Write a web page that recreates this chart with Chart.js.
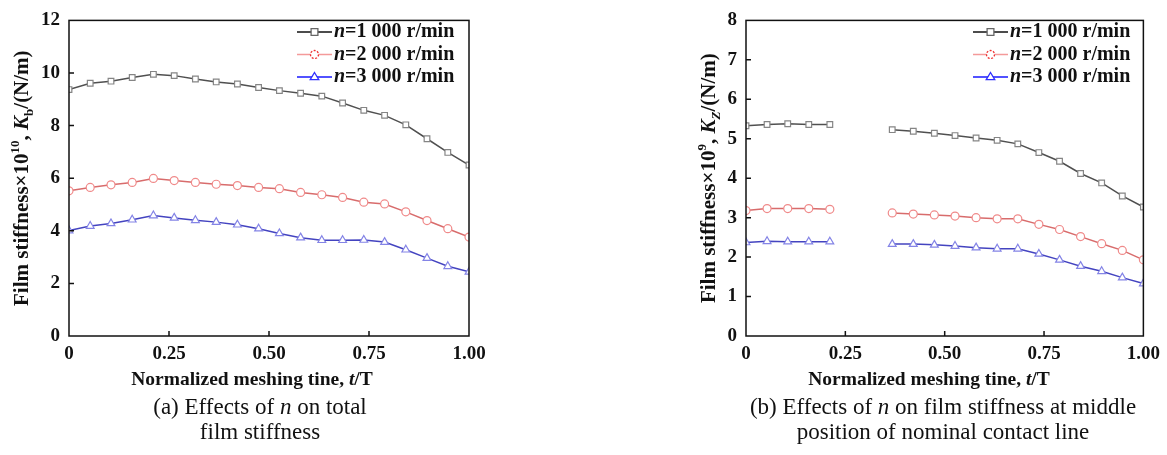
<!DOCTYPE html>
<html><head><meta charset="utf-8">
<script src="https://cdn.jsdelivr.net/npm/chart.js"></script>
<style>
body{margin:0;background:#fff;width:1167px;height:455px;position:relative;overflow:hidden;font-family:"Liberation Serif","Times New Roman",serif;}
canvas{position:absolute;top:0;}
.cap{position:absolute;text-align:center;font-family:"Liberation Serif","Times New Roman",serif;font-size:23px;line-height:25px;color:#111;}
</style></head><body>
<canvas id="ca" width="520" height="395" style="left:0"></canvas>
<canvas id="cb" width="507" height="395" style="left:660px"></canvas>
<div class="cap" style="left:80px;width:360px;top:394px">(a) Effects of <i>n</i> on total<br>film stiffness</div>
<div class="cap" style="left:713px;width:460px;top:394px">(b) Effects of <i>n</i> on film stiffness at middle<br>position of nominal contact line</div>
<script>
// ---- data ----
const tVals = [0,0.053,0.105,0.158,0.211,0.263,0.316,0.368,0.421,0.474,0.526,0.579,0.632,0.684,0.737,0.789,0.842,0.895,0.947,1.0];
const xTickVals = [0,0.25,0.5,0.75,1];
const xTickLabels = ["0","0.25","0.50","0.75","1.00"];
const yTicksA = [0,2,4,6,8,10,12];
const yTicksB = [0,1,2,3,4,5,6,7,8];
const seriesLabels = ["=1 000 r/min","=2 000 r/min","=3 000 r/min"];
// (a) total film stiffness Kb x1e10 N/m
const kb1000 = [9.37,9.61,9.69,9.83,9.95,9.90,9.77,9.66,9.58,9.45,9.33,9.23,9.12,8.86,8.58,8.39,8.03,7.50,6.98,6.50];
const kb2000 = [5.52,5.65,5.75,5.84,5.99,5.91,5.84,5.77,5.72,5.65,5.60,5.46,5.37,5.27,5.09,5.02,4.72,4.39,4.08,3.76];
const kb3000 = [4.01,4.18,4.28,4.42,4.58,4.49,4.40,4.33,4.23,4.08,3.90,3.74,3.64,3.64,3.65,3.57,3.28,2.96,2.65,2.44];
// (b) film stiffness at middle position Kz x1e9 N/m
const kz1000 = [5.33,5.36,5.38,5.36,5.36,null,null,5.23,5.19,5.14,5.08,5.02,4.96,4.87,4.65,4.43,4.12,3.88,3.55,3.27];
const kz2000 = [3.18,3.23,3.23,3.23,3.21,null,null,3.12,3.09,3.07,3.04,3.00,2.97,2.97,2.83,2.70,2.52,2.34,2.17,1.93];
const kz3000 = [2.37,2.40,2.39,2.39,2.39,null,null,2.33,2.33,2.31,2.28,2.24,2.21,2.21,2.08,1.93,1.77,1.64,1.48,1.33];

const FAM = '"Liberation Serif","Times New Roman",serif';
const STY = [
  {line:'#505050', pt:'#858585', shape:'rect', r:4, legLine:'#111', legPt:'#666'},
  {line:'#d86c6c', pt:'#f08a8a', shape:'circle', r:4, legLine:'#f49a9a', legPt:'#ee3030'},
  {line:'#4444c0', pt:'#8484e6', shape:'triangle', r:4.5, legLine:'#1818ff', legPt:'#3030ff'}
];

function rich(ctx, segs, x, y, size, align){
  const parts = segs.map(s=>{
    const sz = (s.sup||s.sub) ? size*0.62 : size;
    const f = (s.it?'italic ':'') + 'bold ' + sz + 'px ' + FAM;
    ctx.font = f;
    return {s, f, w: ctx.measureText(s.t).width, dy: s.sup ? -size*0.36 : (s.sub ? size*0.3 : 0)};
  });
  const tw = parts.reduce((a,p)=>a+p.w,0);
  let cx = align==='center' ? x - tw/2 : x;
  ctx.textBaseline = 'middle'; ctx.textAlign = 'left'; ctx.fillStyle = '#111';
  parts.forEach(p=>{ ctx.font = p.f; ctx.fillText(p.s.t, cx, y + p.dy); cx += p.w; });
}

function marker(ctx, shape, x, y, r, color, dashed){
  ctx.save();
  ctx.strokeStyle = color; ctx.fillStyle = '#fff'; ctx.lineWidth = 1.3;
  if (dashed) ctx.setLineDash([2,1.5]);
  ctx.beginPath();
  if (shape==='rect') ctx.rect(x-r*0.85, y-r*0.85, r*1.7, r*1.7);
  else if (shape==='circle') ctx.arc(x, y, r, 0, Math.PI*2);
  else { ctx.moveTo(x, y-r); ctx.lineTo(x+r*0.95, y+r*0.6); ctx.lineTo(x-r*0.95, y+r*0.6); ctx.closePath(); }
  ctx.fill(); ctx.stroke();
  ctx.restore();
}

const decoPlugin = {
  id: 'deco',
  afterDraw(chart){
    const o = chart.options.plugins.deco;
    const ctx = chart.ctx, a = chart.chartArea;
    const xs = chart.scales.x, ys = chart.scales.y;
    ctx.save();
    ctx.strokeStyle = '#111'; ctx.lineWidth = 1.5;
    ctx.strokeRect(a.left, a.top, a.right-a.left, a.bottom-a.top);
    ctx.beginPath();
    xs.ticks.forEach(t=>{ if (t.value<=0 || t.value>=1) return; const px = xs.getPixelForValue(t.value); ctx.moveTo(px, a.bottom); ctx.lineTo(px, a.bottom-5); });
    ys.ticks.forEach(t=>{ if (t.value<=ys.min || t.value>=ys.max) return; const py = ys.getPixelForValue(t.value); ctx.moveTo(a.left, py); ctx.lineTo(a.left+5, py); });
    ctx.stroke();
    // y title
    ctx.save(); ctx.translate(o.yTitleX, (a.top+a.bottom)/2); ctx.rotate(-Math.PI/2);
    rich(ctx, o.yTitle, 0, 0, 21, 'center'); ctx.restore();
    // x title
    rich(ctx, [{t:'Normalized meshing tine, '},{t:'t',it:true},{t:'/T'}], o.xTitleX, o.xTitleY, 19.5, 'center');
    // legend
    chart.data.datasets.forEach((ds,i)=>{
      const s = STY[i]; const y = o.legY + i*22.5, x0 = o.legX;
      ctx.strokeStyle = s.legLine; ctx.lineWidth = 1.5;
      ctx.beginPath(); ctx.moveTo(x0, y); ctx.lineTo(x0+35, y); ctx.stroke();
      marker(ctx, s.shape, x0+17.5, y, s.r, s.legPt, i===1);
      rich(ctx, [{t:'n',it:true},{t:seriesLabels[i]}], x0+37, y, 20, 'left');
    });
    ctx.restore();
  }
};

function makeChart(id, arrs, yMax, yTicks, yW, rightPad, decoOpts){
  const datasets = arrs.map((arr,i)=>({
    data: tVals.map((t,k)=>({x:t, y:arr[k]})),
    borderColor: STY[i].line, borderWidth: 1.5, tension: 0, spanGaps: false,
    pointStyle: STY[i].shape, pointRadius: STY[i].r, pointBorderColor: STY[i].pt,
    pointBackgroundColor: '#fff', pointBorderWidth: 1.2
  }));
  return new Chart(document.getElementById(id), {
    type: 'line',
    data: {datasets},
    options: {
      responsive: false, animation: false, devicePixelRatio: 1,
      layout: {padding: {left: 0, right: rightPad, top: 16, bottom: 0}},
      plugins: {legend: {display: false}, tooltip: {enabled: false}, deco: decoOpts},
      scales: {
        x: {type: 'linear', min: 0, max: 1,
          afterBuildTicks: s => { s.ticks = xTickVals.map(v=>({value:v})); },
          ticks: {callback: v => xTickLabels[xTickVals.indexOf(v)], font: {family: FAM, size: 19, weight: 'bold'}, color: '#111', padding: 7, maxRotation: 0, autoSkip: false},
          grid: {display: false, drawTicks: false}, border: {display: false},
          afterFit: s => { s.height = 59; }},
        y: {type: 'linear', min: 0, max: yMax,
          afterBuildTicks: s => { s.ticks = yTicks.map(v=>({value:v})); },
          ticks: {callback: v => String(v), font: {family: FAM, size: 19, weight: 'bold'}, color: '#111', padding: 9, autoSkip: false},
          grid: {display: false, drawTicks: false}, border: {display: false},
          afterFit: s => { s.width = yW; }}
      }
    },
    plugins: [decoPlugin]
  });
}

makeChart('ca', [kb1000,kb2000,kb3000], 12, yTicksA, 69, 51, {
  yTitle: [{t:'Film stiffness×10'},{t:'10',sup:true},{t:', '},{t:'K',it:true},{t:'b',sub:true},{t:'/(N/m)'}],
  yTitleX: 23, xTitleX: 252, xTitleY: 380, legX: 297, legY: 32
});
makeChart('cb', [kz1000,kz2000,kz3000], 8, yTicksB, 86, 21, {
  yTitle: [{t:'Film stiffness×10'},{t:'9',sup:true},{t:', '},{t:'K',it:true},{t:'Z',sub:true,it:true},{t:'/(N/m)'}],
  yTitleX: 50, xTitleX: 269, xTitleY: 380, legX: 313, legY: 32
});
</script>
</body></html>
